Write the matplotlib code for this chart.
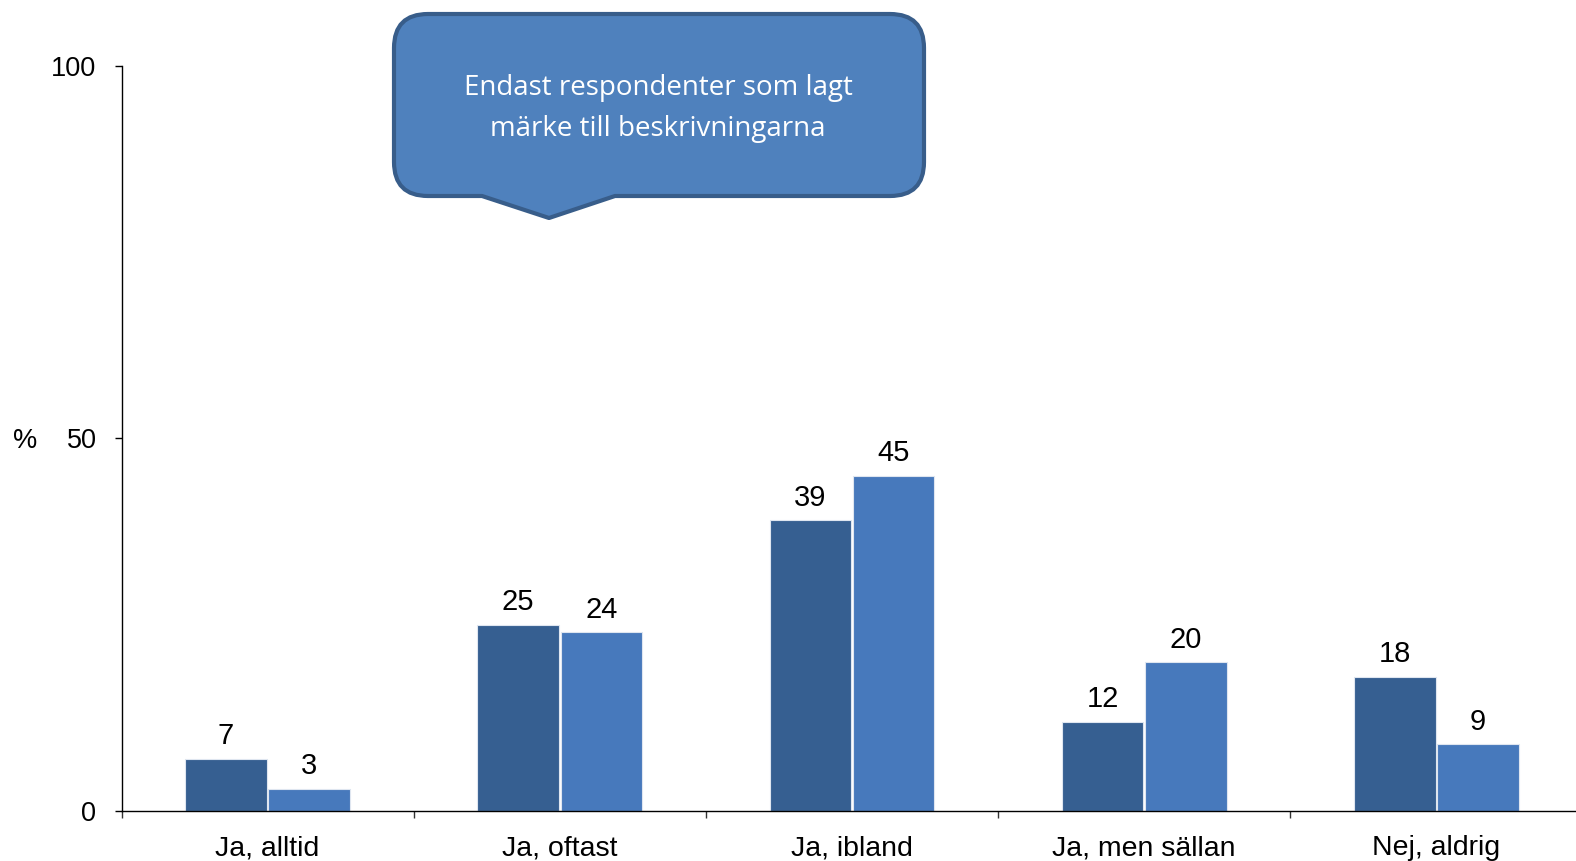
import matplotlib.pyplot as plt
from matplotlib.path import Path
from matplotlib.patches import PathPatch
import numpy as np

plt.rcParams['font.family'] = ['Liberation Sans', 'DejaVu Sans']

categories = ['Ja, alltid', 'Ja, oftast', 'Ja, ibland', 'Ja, men sällan', 'Nej, aldrig']
series1 = [7, 25, 39, 12, 18]
series2 = [3, 24, 45, 20, 9]
yticks = [0, 50, 100]
callout_text = 'Endast respondenter som lagt\nmärke till beskrivningarna'

W, H = 1576, 861
fig = plt.figure(figsize=(W / 100, H / 100), dpi=100)
# axes runs slightly past the right edge of the figure, like the original
ax = fig.add_axes([121.5 / W, 1 - 811 / H, 1461 / W, (811 - 65.5) / H])

x = np.arange(len(categories))
bw = 0.279
ax.bar(x - 0.1425, series1, bw, color='#365F91', edgecolor='#dfe6f0', linewidth=0.8)
ax.bar(x + 0.1425, series2, bw, color='#4779BC', edgecolor='#dfe6f0', linewidth=0.8)

for xi, v in zip(x - 0.1425, series1):
    ax.annotate(str(v), (xi, v), xytext=(0, 6), textcoords='offset points',
                ha='center', va='bottom', fontsize=21)
for xi, v in zip(x + 0.1425, series2):
    ax.annotate(str(v), (xi, v), xytext=(0, 6), textcoords='offset points',
                ha='center', va='bottom', fontsize=21)

ax.set_xlim(-0.5, len(categories) - 0.5)
ax.set_ylim(0, 100)
ax.set_yticks(yticks)
ax.set_yticklabels([str(t) for t in yticks], fontsize=19.5)
ax.tick_params(axis='y', direction='out', length=5, pad=13, width=1)

# category boundaries as major ticks, labels on minor ticks
ax.set_xticks(np.arange(len(categories) + 1) - 0.5)
ax.set_xticklabels([])
ax.set_xticks(x, minor=True)
ax.set_xticklabels(categories, minor=True, fontsize=20.5)
ax.tick_params(axis='x', which='major', direction='out', length=5, width=1, color='#333333')
ax.tick_params(axis='x', which='minor', length=0, pad=17.5)

for s in ['top', 'right']:
    ax.spines[s].set_visible(False)
ax.spines['left'].set_linewidth(1)
ax.spines['bottom'].set_linewidth(1)

fig.text(25 / W, 1 - 441 / H, '%', fontsize=19.5, ha='center', va='center')

# callout box (pixel coords, y down)
x0, x1, y0, y1, r = 394, 924, 14, 196, 34
tip = (549, 218)
pts = [
    ((x0 + r, y0), Path.MOVETO),
    ((x1 - r, y0), Path.LINETO),
    ((x1, y0), Path.CURVE3), ((x1, y0 + r), Path.CURVE3),
    ((x1, y1 - r), Path.LINETO),
    ((x1, y1), Path.CURVE3), ((x1 - r, y1), Path.CURVE3),
    ((615, y1), Path.LINETO),
    (tip, Path.LINETO),
    ((482, y1), Path.LINETO),
    ((x0 + r, y1), Path.LINETO),
    ((x0, y1), Path.CURVE3), ((x0, y1 - r), Path.CURVE3),
    ((x0, y0 + r), Path.LINETO),
    ((x0, y0), Path.CURVE3), ((x0 + r, y0), Path.CURVE3),
    ((x0 + r, y0), Path.CLOSEPOLY),
]
verts = [(px / W, 1 - py / H) for (px, py), _ in pts]
codes = [c for _, c in pts]
patch = PathPatch(Path(verts, codes), facecolor='#4F81BD', edgecolor='#385D8A',
                  linewidth=3, transform=fig.transFigure, joinstyle='round')
fig.add_artist(patch)
fig.text(658 / W, 1 - 108.5 / H, callout_text, fontsize=20, color='white',
         ha='center', va='center', family=['Open Sans', 'DejaVu Sans'], linespacing=1.58)

fig.savefig('out.png', dpi=100)
